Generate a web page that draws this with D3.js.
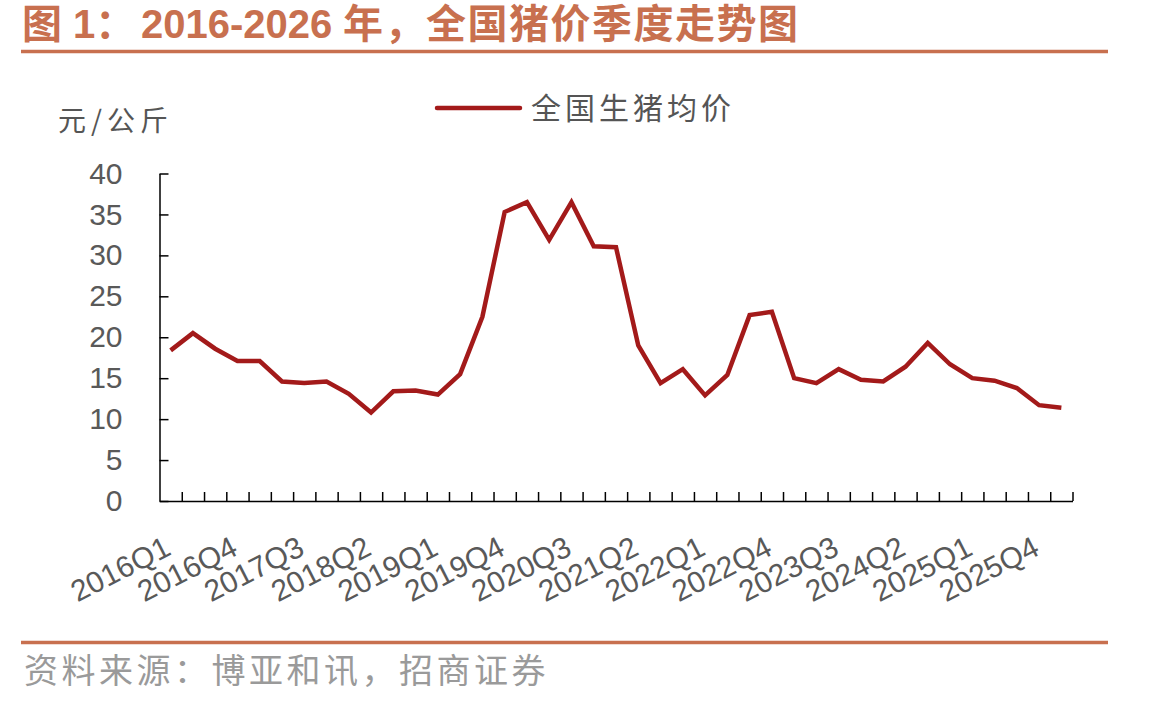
<!DOCTYPE html>
<html>
<head>
<meta charset="utf-8">
<script src="https://cdn.jsdelivr.net/npm/d3@7"></script>
<style>
  body { margin: 0; background: #fff; }
  svg { display: block; }
</style>
</head>
<body>
<div id="chart"></div>
<script>
// quarters on the x axis
var quarters = [
  "2016Q1", "2016Q2", "2016Q3", "2016Q4", "2017Q1", "2017Q2", "2017Q3", "2017Q4",
  "2018Q1", "2018Q2", "2018Q3", "2018Q4", "2019Q1", "2019Q2", "2019Q3", "2019Q4",
  "2020Q1", "2020Q2", "2020Q3", "2020Q4", "2021Q1", "2021Q2", "2021Q3", "2021Q4",
  "2022Q1", "2022Q2", "2022Q3", "2022Q4", "2023Q1", "2023Q2", "2023Q3", "2023Q4",
  "2024Q1", "2024Q2", "2024Q3", "2024Q4", "2025Q1", "2025Q2", "2025Q3", "2025Q4",
  "2026Q1"
];

// 全国生猪均价 (元/公斤)
var hogPrice = [
  18.4, 20.5, 18.6, 17.1, 17.1, 14.6, 14.4, 14.6,
  13.1, 10.8, 13.4, 13.5, 13.0, 15.5, 22.5, 35.3,
  36.5, 31.9, 36.5, 31.1, 31.0, 19.0, 14.4, 16.1,
  12.9, 15.4, 22.7, 23.1, 15.0, 14.4, 16.1, 14.8,
  14.6, 16.4, 19.3, 16.7, 15.0, 14.7, 13.8, 11.7,
  11.4
];

var xLabels = ["2016Q1", "2016Q4", "2017Q3", "2018Q2", "2019Q1", "2019Q4", "2020Q3",
  "2021Q2", "2022Q1", "2022Q4", "2023Q3", "2024Q2", "2025Q1", "2025Q4"];
var yTicks = [0, 5, 10, 15, 20, 25, 30, 35, 40];

var svg = d3.select("#chart").append("svg")
  .attr("width", 1154)
  .attr("height", 703);

var accent = "#C8704F";
var lineColor = "#A31A1A";
var cjk = "'Noto Sans CJK SC', sans-serif";
var latin = "'Liberation Sans', Arial, 'Noto Sans CJK SC', sans-serif";

// title + rules
var title = svg.append("text")
  .attr("y", 38)
  .attr("fill", accent)
  .attr("font-family", latin)
  .attr("font-weight", "bold")
  .attr("font-size", 40);
title.append("tspan").attr("x", 22).text("图 1：");
title.append("tspan").attr("x", 141).text("2016-2026");
title.append("tspan").attr("x", 343).attr("letter-spacing", 1.5).text("年，全国猪价季度走势图");

svg.append("line")
  .attr("x1", 21).attr("x2", 1108)
  .attr("y1", 51.5).attr("y2", 51.5)
  .attr("stroke", accent)
  .attr("stroke-width", 3.5);

svg.append("line")
  .attr("x1", 21).attr("x2", 1108)
  .attr("y1", 642.5).attr("y2", 642.5)
  .attr("stroke", accent)
  .attr("stroke-width", 3.5);

svg.append("text")
  .attr("x", 24)
  .attr("y", 683)
  .attr("fill", "#9a9a9a")
  .attr("font-family", cjk)
  .attr("font-size", 34)
  .attr("letter-spacing", 3.5)
  .text("资料来源：博亚和讯，招商证券");

// scales
var plotLeft = 159.5, plotRight = 1072.5, plotTop = 173.5, plotBottom = 501;

var x = d3.scaleBand()
  .domain(quarters)
  .range([plotLeft, plotRight])
  .padding(0);

var xTick = d3.scaleLinear()
  .domain([0, quarters.length])
  .range([plotLeft, plotRight]);

var y = d3.scaleLinear()
  .domain([0, 40])
  .range([plotBottom, plotTop]);

// y axis
var yAxis = svg.append("g")
  .attr("transform", "translate(" + plotLeft + ",0)")
  .call(d3.axisLeft(y).tickValues(yTicks).tickSize(-9).tickSizeOuter(0).tickPadding(37));

yAxis.select(".domain").attr("stroke", "#000").attr("stroke-width", 1.5);
yAxis.selectAll(".tick line").attr("stroke", "#000").attr("stroke-width", 1.5);
yAxis.selectAll("text")
  .attr("font-family", latin)
  .attr("font-size", 30)
  .attr("fill", "#595959");

// x axis ticks between categories
var xAxis = svg.append("g")
  .attr("transform", "translate(0," + plotBottom + ")")
  .call(d3.axisBottom(xTick).tickValues(d3.range(1, quarters.length + 1)).tickSize(-9).tickSizeOuter(0).tickFormat(""));

xAxis.select(".domain").attr("stroke", "#000").attr("stroke-width", 1.5);
xAxis.selectAll(".tick line").attr("stroke", "#000").attr("stroke-width", 1.5);

// x labels, rotated
var xLab = svg.append("g")
  .attr("transform", "translate(0," + plotBottom + ")")
  .call(d3.axisBottom(x).tickValues(xLabels).tickSize(0).tickPadding(0));

xLab.select(".domain").remove();
xLab.selectAll("text")
  .attr("font-family", latin)
  .attr("font-size", 30)
  .attr("fill", "#595959")
  .attr("text-anchor", "end")
  .attr("dy", 0)
  .attr("y", 0)
  .attr("transform", "translate(2,53) rotate(-27)");

// unit label
svg.append("text")
  .attr("x", 58)
  .attr("y", 131)
  .attr("fill", "#555")
  .attr("font-family", cjk)
  .attr("font-size", 28)
  .attr("letter-spacing", 5)
  .text("元/公斤");

// legend
svg.append("line")
  .attr("x1", 437).attr("x2", 520)
  .attr("y1", 108).attr("y2", 108)
  .attr("stroke", lineColor)
  .attr("stroke-width", 4.5)
  .attr("stroke-linecap", "round");

svg.append("text")
  .attr("x", 531)
  .attr("y", 119)
  .attr("fill", "#555")
  .attr("font-family", cjk)
  .attr("font-size", 30)
  .attr("letter-spacing", 4)
  .text("全国生猪均价");

// series line
var line = d3.line()
  .x(function (d, i) { return x(quarters[i]) + x.bandwidth() / 2; })
  .y(function (d) { return y(d); });

svg.append("path")
  .datum(hogPrice)
  .attr("d", line)
  .attr("fill", "none")
  .attr("stroke", lineColor)
  .attr("stroke-width", 4.5)
  .attr("stroke-linejoin", "miter");
</script>
</body>
</html>
